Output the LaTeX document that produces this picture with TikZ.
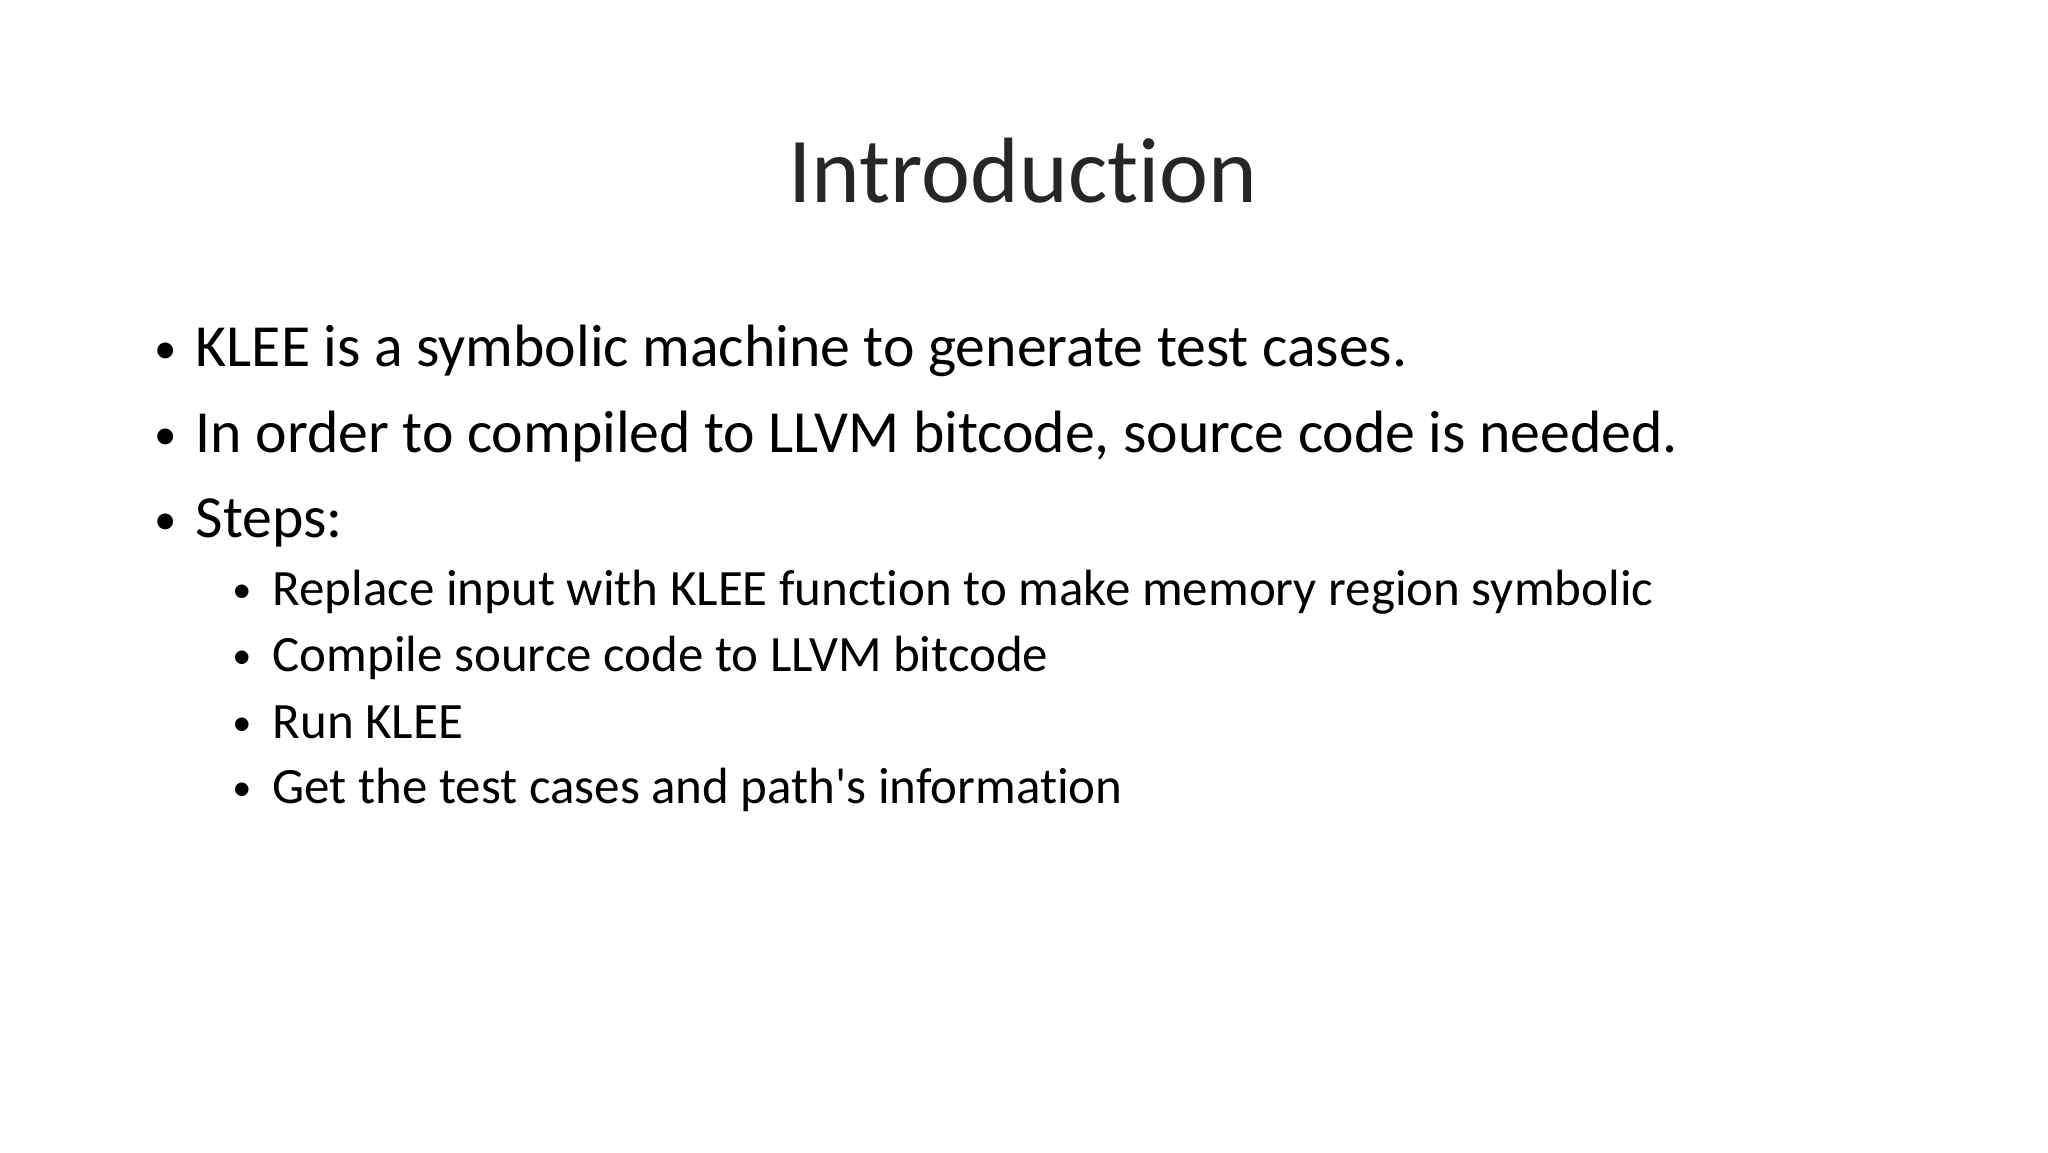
\documentclass[tikz,border=0pt]{standalone}
\usepackage{fontspec}
\setmainfont{Carlito}[Ligatures={NoCommon,NoRare,NoDiscretionary,NoContextual}]
\begin{document}
\begin{tikzpicture}[x=1mm,y=-1mm,
  title/.style={anchor=base,font=\fontsize{26.4}{31}\selectfont,text=black!85},
  lvlone/.style={anchor=base west,inner sep=0pt,font=\fontsize{17}{20}\selectfont},
  lvltwo/.style={anchor=base west,inner sep=0pt,font=\fontsize{14.5}{17}\selectfont},
  bul/.style={anchor=base,inner sep=0pt}]
\useasboundingbox[fill=white] (0,0) rectangle (204.8,115.2);
\node[title] (t) at (102.3,20.2) {Introduction};
\node[lvlone,bul,scale=0.75] (b1) at (16.6,36.3) {•};
\node[lvlone] (l1) at (19.5,36.6) {KLEE is a symbolic machine to generate test cases.};
\node[lvlone,bul,scale=0.75] (b2) at (16.6,44.9) {•};
\node[lvlone] (l2) at (19.5,45.2) {In order to compiled to LLVM bitcode, source code is needed.};
\node[lvlone,bul,scale=0.75] (b3) at (16.6,53.4) {•};
\node[lvlone] (l3) at (19.5,53.7) {Steps:};
\node[lvltwo,bul,scale=0.75] (s1b) at (24.2,60.2) {•};
\node[lvltwo] (s1) at (27.2,60.5) {Replace input with KLEE function to make memory region symbolic};
\node[lvltwo,bul,scale=0.75] (s2b) at (24.2,66.8) {•};
\node[lvltwo] (s2) at (27.2,67.1) {Compile source code to LLVM bitcode};
\node[lvltwo,bul,scale=0.75] (s3b) at (24.2,73.5) {•};
\node[lvltwo] (s3) at (27.2,73.8) {Run KLEE};
\node[lvltwo,bul,scale=0.75] (s4b) at (24.2,80.0) {•};
\node[lvltwo] (s4) at (27.2,80.3) {Get the test cases and path\textquotesingle s information};
\end{tikzpicture}
\end{document}
